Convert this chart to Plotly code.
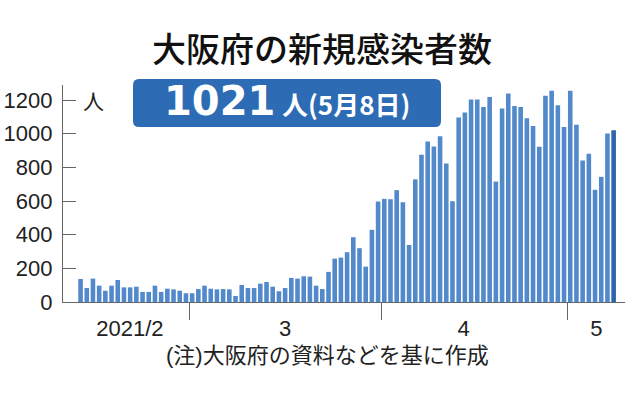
import pandas as pd
import plotly.graph_objects as go

# ---- data ----
start_date = "2021-02-11"
feb = [137, 83, 139, 97, 67, 97, 131, 87, 87, 91, 60, 60, 97, 60, 79, 75, 67, 52]
mar = [52, 77, 97, 79, 75, 77, 75, 36, 101, 83, 83, 109, 119, 91, 64, 83, 143, 139, 153, 151,
       97, 77, 179, 258, 264, 296, 385, 320, 210, 429, 597]
apr = [613, 611, 665, 593, 339, 729, 875, 954, 925, 986, 823, 599, 1097, 1127, 1204, 1204, 1159,
       1218, 716, 1151, 1240, 1165, 1159, 1093, 1046, 923, 1226, 1256, 1169, 1040]
may = [1256, 1054, 841, 881, 667, 744, 1002, 1021]
cases = feb + mar + apr + may
dates = pd.date_range(start_date, periods=len(cases), freq="D")

y_ticks = [0, 200, 400, 600, 800, 1000, 1200]
month_labels = ["2021/2", "3", "4", "5"]
month_label_pos = ["2021-02-18 23:00", "2021-03-16 00:00", "2021-04-13 19:00", "2021-05-05 05:00"]
month_bounds = ["2021-02-28 12:00", "2021-03-31 12:00", "2021-04-30 12:00"]

title_text = "大阪府の新規感染者数"
banner_num = "1021"
banner_rest = "人(5月8日)"
unit_text = "人"
note_text = "(注)大阪府の資料などを基に作成"

# ---- style ----
W, H = 638, 396
L, R, T, B = 63, 13, 85, 94
pw, ph = W - L - R, H - T - B
BAR = "#5189cb"
BAR_LAST = "#2c64ad"
BANNER = "#2d6bb5"
SANS = "Liberation Sans Narrow, Liberation Sans, Arial, sans-serif"
CJK = "Noto Sans CJK JP, Noto Sans CJK SC, sans-serif"


def px(x):
    return (x - L) / pw


def py(y):
    return (H - B - y) / ph


colors = [BAR] * (len(cases) - 1) + [BAR_LAST]

fig = go.Figure(go.Bar(
    x=dates, y=cases, marker=dict(color=colors, line=dict(width=0)),
    width=0.74 * 86400000, hoverinfo="x+y",
))

fig.update_layout(
    width=W, height=H,
    margin=dict(l=L, r=R, t=T, b=B),
    paper_bgcolor="white", plot_bgcolor="white",
    showlegend=False,
    font=dict(family=SANS, color="#222"),
)

fig.update_xaxes(
    range=["2021-02-08 04:00", "2021-05-09 20:00"],
    automargin=False,
    showgrid=False, zeroline=False,
    showline=True, linecolor="#666", linewidth=1.2,
    tickmode="array", tickvals=month_label_pos, ticktext=month_labels,
    ticks="", ticklabelstandoff=6,
    tickfont=dict(family=SANS, size=22, color="#222"),
    minor=dict(tickmode="array", tickvals=month_bounds, ticks="outside",
               ticklen=17, tickcolor="#666", tickwidth=1.2, showgrid=False),
)

fig.update_yaxes(
    range=[0, 1290],
    automargin=False,
    showgrid=False, zeroline=False,
    showline=True, linecolor="#666", linewidth=1.2,
    tickmode="array", tickvals=y_ticks,
    ticks="inside", ticklen=13, tickcolor="#666", tickwidth=1.2,
    ticklabelstandoff=5,
    tickfont=dict(family=SANS, size=22, color="#222"),
)

# banner with rounded corners
x0, x1 = px(133), px(441)
y0, y1 = py(127), py(79)
rx, ry = 6 / pw, 6 / ph
path = (f"M {x0+rx},{y0} L {x1-rx},{y0} Q {x1},{y0} {x1},{y0+ry} "
        f"L {x1},{y1-ry} Q {x1},{y1} {x1-rx},{y1} L {x0+rx},{y1} "
        f"Q {x0},{y1} {x0},{y1-ry} L {x0},{y0+ry} Q {x0},{y0} {x0+rx},{y0} Z")
fig.add_shape(type="path", path=path, xref="paper", yref="paper",
              fillcolor=BANNER, line=dict(width=0), layer="above")

annos = [
    dict(text=title_text, x=px(322), y=py(47), font=dict(family=CJK, size=34, color="#111", weight=500)),
    dict(text=f"<b>{banner_num}</b>", x=px(277), y=py(101), xanchor="right",
         font=dict(family="DejaVu Sans, sans-serif", size=40, color="white")),
    dict(text=f"<b>{banner_rest}</b>", x=px(280), y=py(104), xanchor="left",
         font=dict(family=CJK, size=26, color="white")),
    dict(text=unit_text, x=px(93), y=py(100), font=dict(family=CJK, size=21, color="#222")),
    dict(text=note_text, x=px(327), y=py(355), font=dict(family="Liberation Sans, " + CJK, size=22, color="#222")),
]
for a in annos:
    a.setdefault("xanchor", "center")
    fig.add_annotation(xref="paper", yref="paper", showarrow=False, yanchor="middle", **a)

fig.write_html("out.html")
